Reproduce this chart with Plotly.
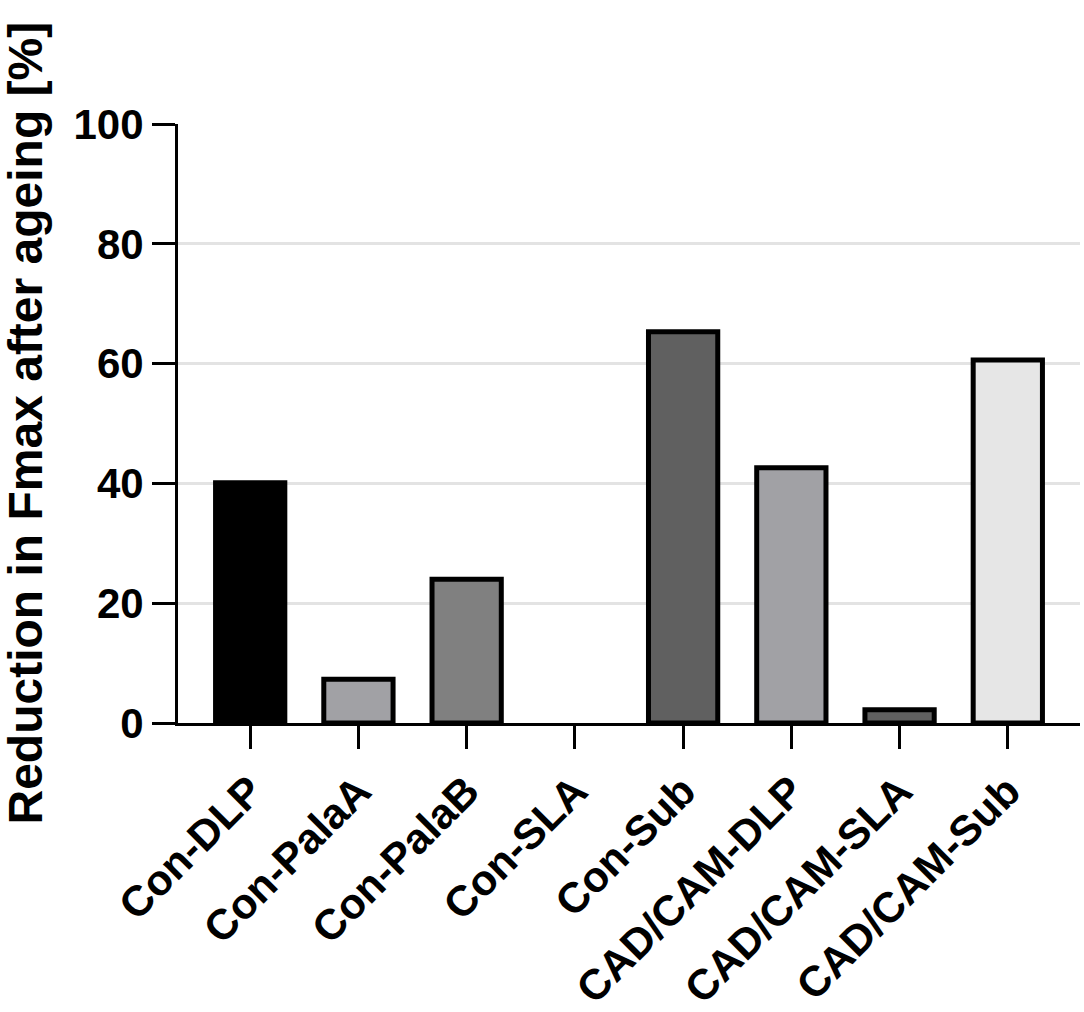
import plotly.graph_objects as go

categories = ["Con-DLP", "Con-PalaA", "Con-PalaB", "Con-SLA", "Con-Sub",
              "CAD/CAM-DLP", "CAD/CAM-SLA", "CAD/CAM-Sub"]
values = [40.1, 7.3, 24.0, 0.0, 65.3, 42.6, 2.2, 60.6]
bar_colors = ["#000000", "#A1A1A5", "#808080", "#FFFFFF", "#606060",
              "#A1A1A5", "#606060", "#E6E6E6"]
y_ticks = [0, 20, 40, 60, 80, 100]
y_title = "Reduction in Fmax after ageing [%]"

FONT = "Liberation Sans, Arial, sans-serif"

# no outline for a zero-height bar
line_widths = [5 if v > 0 else 0 for v in values]

fig = go.Figure()
fig.add_trace(go.Bar(
    x=categories,
    y=values,
    width=0.64,
    marker=dict(color=bar_colors, line=dict(color="#000000", width=line_widths)),
    showlegend=False,
))

fig.update_layout(
    width=1084,
    height=1012,
    autosize=False,
    margin=dict(l=178, r=4, t=124, b=289),
    paper_bgcolor="white",
    plot_bgcolor="white",
    font=dict(family=FONT, color="black"),
)

fig.update_xaxes(
    type="category",
    range=[-0.667, 7.667],
    automargin=False,
    showline=True,
    linecolor="black",
    linewidth=3,
    ticks="outside",
    ticklen=23,
    tickwidth=3,
    tickcolor="black",
    tickangle=-45,
    tickfont=dict(family=FONT, size=42.5, color="black", weight="bold"),
    showgrid=False,
    zeroline=False,
)

fig.update_yaxes(
    range=[0, 100],
    tickvals=y_ticks,
    automargin=False,
    showline=True,
    linecolor="black",
    linewidth=3,
    ticks="outside",
    ticklen=23,
    tickwidth=3,
    tickcolor="black",
    tickfont=dict(family=FONT, size=42, color="black", weight="bold"),
    showgrid=True,
    gridcolor="#E3E3E3",
    gridwidth=2.5,
    zeroline=False,
)

fig.add_annotation(
    text=y_title,
    xref="paper", yref="paper",
    x=-0.1696, y=0.5,
    xanchor="center", yanchor="middle",
    textangle=-90,
    showarrow=False,
    font=dict(family=FONT, size=48, color="black", weight="bold"),
)

fig.write_html("out.html", config={"displayModeBar": False},
               post_script="document.body.style.margin='0px';")
